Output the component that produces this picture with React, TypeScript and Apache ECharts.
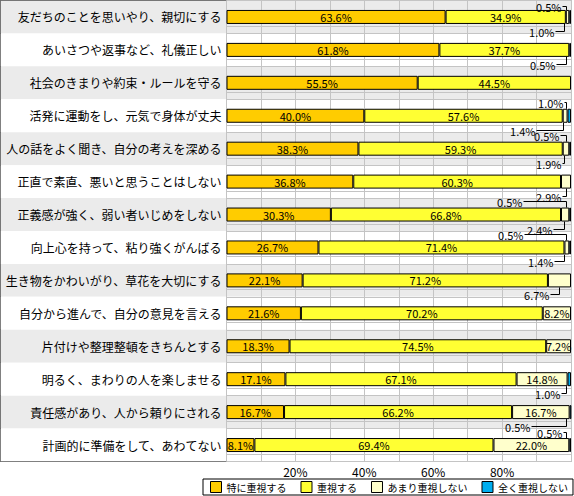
import React, { useEffect, useRef } from 'react';
import * as echarts from 'echarts';

const FONT = "'Noto Sans CJK JP', 'Noto Sans', sans-serif";

const categories = [
  '友だちのことを思いやり、親切にする',
  'あいさつや返事など、礼儀正しい',
  '社会のきまりや約束・ルールを守る',
  '活発に運動をし、元気で身体が丈夫',
  '人の話をよく聞き、自分の考えを深める',
  '正直で素直、悪いと思うことはしない',
  '正義感が強く、弱い者いじめをしない',
  '向上心を持って、粘り強くがんばる',
  '生き物をかわいがり、草花を大切にする',
  '自分から進んで、自分の意見を言える',
  '片付けや整理整頓をきちんとする',
  '明るく、まわりの人を楽しませる',
  '責任感があり、人から頼りにされる',
  '計画的に準備をして、あわてない',
];

const seriesNames = ['特に重視する', '重視する', 'あまり重視しない', '全く重視しない'];

const veryImportant = [63.6, 61.8, 55.5, 40.0, 38.3, 36.8, 30.3, 26.7, 22.1, 21.6, 18.3, 17.1, 16.7, 8.1];
const important = [34.9, 37.7, 44.5, 57.6, 59.3, 60.3, 66.8, 71.4, 71.2, 70.2, 74.5, 67.1, 66.2, 69.4];
const notMuch = [1.0, 0, 0, 1.4, 1.9, 2.9, 2.4, 1.4, 6.7, 8.2, 7.2, 14.8, 16.7, 22.0];
const notAtAll = [0.5, 0.5, 0, 1.0, 0.5, 0, 0.5, 0.5, 0, 0, 0, 1.0, 0.5, 0.5];

const xTickLabels = [20, 40, 60, 80];

// callout layout: [row, segment index, side, text gap in px]
const calloutLayout: [number, number, string, number][] = [
  [0, 3, 'top', 5], [0, 2, 'bottom', 10],
  [1, 3, 'bottom', 11],
  [3, 3, 'top', 3], [3, 2, 'bottom', 28],
  [4, 3, 'top', 7], [4, 2, 'bottom', 3],
  [5, 2, 'bottom', 5],
  [6, 3, 'top', 44], [6, 2, 'bottom', 12],
  [7, 3, 'top', 43], [7, 2, 'bottom', 11],
  [8, 2, 'bottom', 10],
  [11, 3, 'bottom', 6],
  [12, 3, 'bottom', 36],
  [13, 3, 'top', 4],
];

const colors = ['#FFCC00', '#FFFF33', '#FFFFCC', '#00AEEF'];

export default function App() {
  const ref = useRef<HTMLDivElement>(null);

  useEffect(() => {
    document.body.style.margin = '0';
    if (!ref.current) return;
    const chart = echarts.init(ref.current, undefined, { renderer: 'svg' });
    const segs = [veryImportant, important, notMuch, notAtAll];

    const calloutData = calloutLayout.map(([row, seg, side, gap]) => {
      let start = 0;
      for (let k = 0; k < seg; k++) start += segs[k][row];
      const v = segs[seg][row];
      return [start, start + v, row, v, side === 'top' ? 1 : -1, gap];
    });

    const labelFmt = (min: number) => (p: any) =>
      p.value != null && p.value >= min ? Number(p.value).toFixed(1) + '%' : '';

    const barSeries = segs.map((arr, i) => ({
      name: seriesNames[i],
      type: 'bar',
      stack: 'total',
      xAxisIndex: 1,
      yAxisIndex: 1,
      barWidth: 14,
      z: 2,
      data: arr.map((v) => (v > 0 ? v : null)),
      itemStyle: { color: colors[i], borderColor: '#000', borderWidth: 1 },
      label: {
        show: i < 3,
        position: 'inside',
        formatter: labelFmt(i === 2 ? 7 : 0),
        fontSize: 11,
        lineHeight: 11,
        fontFamily: FONT,
        color: '#000',
      },
      emphasis: { disabled: true },
    }));

    chart.setOption({
      animation: false,
      textStyle: { fontFamily: FONT },
      grid: [
        { left: 0.5, top: 0.5, width: 226, height: 461, show: true, borderColor: '#000', borderWidth: 1, backgroundColor: 'transparent' },
        { left: 226.5, top: 0.5, width: 346, height: 461, show: true, borderColor: '#000', borderWidth: 1, backgroundColor: 'transparent' },
      ],
      xAxis: [
        { gridIndex: 0, type: 'value', min: 0, max: 1, show: false },
        {
          gridIndex: 1,
          type: 'value',
          min: 0,
          max: 100,
          interval: 10,
          axisLine: { show: false },
          axisTick: { show: false },
          splitLine: { show: true, lineStyle: { color: '#c4c4c4', width: 1 } },
          axisLabel: {
            margin: 3,
            fontSize: 12,
            lineHeight: 13,
            color: '#000',
            fontFamily: FONT,
            formatter: (v: number) => (xTickLabels.indexOf(v) >= 0 ? v + '%' : ''),
          },
        },
      ],
      yAxis: [
        {
          gridIndex: 0,
          type: 'category',
          data: categories,
          inverse: true,
          position: 'right',
          axisLine: { show: false },
          axisTick: { show: false },
          axisLabel: { inside: true, margin: 5, fontSize: 12, color: '#000', fontFamily: FONT },
          splitArea: { show: true, areaStyle: { color: ['#ebebeb', '#ffffff'] } },
          splitLine: { show: false },
        },
        {
          gridIndex: 1,
          type: 'category',
          data: categories,
          inverse: true,
          axisLine: { show: false },
          axisTick: { show: false },
          axisLabel: { show: false },
          splitArea: { show: true, areaStyle: { color: ['#ebebeb', '#ffffff'] } },
          splitLine: { show: true, lineStyle: { color: '#c4c4c4', width: 1 } },
        },
      ],
      legend: {
        data: seriesNames,
        left: 203,
        top: 479,
        orient: 'horizontal',
        itemWidth: 11,
        itemHeight: 11,
        itemGap: 14,
        padding: [2, 5, 2, 7],
        borderColor: '#000',
        borderWidth: 1,
        icon: 'rect',
        itemStyle: { borderColor: '#000', borderWidth: 1 },
        textStyle: { fontSize: 10, color: '#000', fontFamily: FONT },
        selectedMode: false,
      },
      series: [
        {
          type: 'custom',
          name: 'rowlines',
          xAxisIndex: 1,
          yAxisIndex: 1,
          z: 1,
          silent: true,
          encode: { x: 0, y: 1 },
          data: categories.map((_, i) => [0, i]),
          renderItem: (params: any, api: any) => {
            const c = api.coord([0, api.value(1)]);
            const cs = params.coordSys;
            const y = Math.round(c[1] + 9) + 0.5;
            return {
              type: 'line',
              shape: { x1: cs.x, y1: y, x2: cs.x + cs.width, y2: y },
              style: { stroke: '#c4c4c4', lineWidth: 1 },
            };
          },
        },
        ...barSeries,
        {
          type: 'custom',
          name: 'callouts',
          xAxisIndex: 1,
          yAxisIndex: 1,
          z: 5,
          silent: true,
          clip: false,
          encode: { x: [0, 1], y: 2 },
          data: calloutData,
          renderItem: (params: any, api: any) => {
            const s = api.value(0);
            const e = api.value(1);
            const row = api.value(2);
            const val = api.value(3);
            const side = api.value(4);
            const gap = api.value(5);
            const cs = params.coordSys;
            const a = api.coord([s, row]);
            const b = api.coord([e, row]);
            const half = 7;
            const lx = Math.round(Math.min((a[0] + b[0]) / 2, b[0] - 5)) + 0.5;
            const edge = side > 0 ? a[1] - half : a[1] + half;
            const ty =
              side > 0
                ? Math.max(Math.floor(edge - 6) + 0.5, cs.y + 6)
                : Math.round(edge + 7) + 0.5;
            const tx = lx - gap;
            return {
              type: 'group',
              children: [
                {
                  type: 'polyline',
                  shape: { points: [[tx + 1, ty], [lx, ty], [lx, edge]] },
                  style: { stroke: '#000', lineWidth: 1, fill: 'none' },
                },
                {
                  type: 'text',
                  style: {
                    text: Number(val).toFixed(1) + '%',
                    x: tx,
                    y: ty,
                    align: 'right',
                    verticalAlign: 'middle',
                    fontSize: 11,
                    lineHeight: 10,
                    fontFamily: FONT,
                    fill: '#000',
                  },
                },
              ],
            };
          },
        },
      ],
    });

    return () => chart.dispose();
  }, []);

  return <div ref={ref} style={{ width: 574, height: 496 }} />;
}
